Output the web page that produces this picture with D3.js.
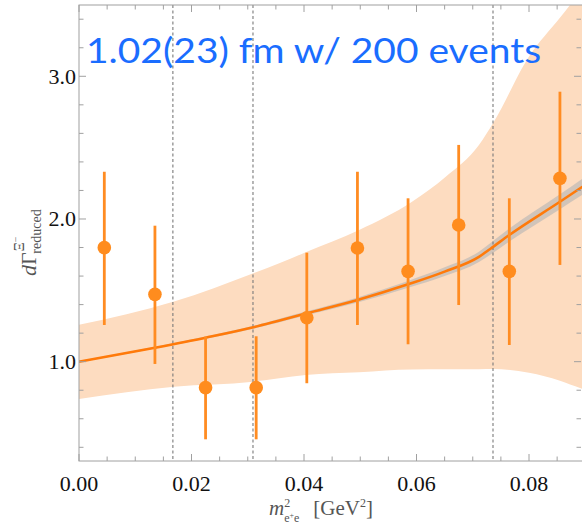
<!DOCTYPE html>
<html>
<head>
<meta charset="utf-8">
<script src="https://cdn.jsdelivr.net/npm/d3@7"></script>
<style>
  html, body { margin: 0; padding: 0; background: #fff; }
  svg { display: block; }
</style>
</head>
<body>
<svg id="chart" width="582" height="529"></svg>
<script>
// Binned data points (bin centres in GeV^2) with their error bars
const binX = [0.0045, 0.0135, 0.0225, 0.0315, 0.0405, 0.0495, 0.0585, 0.0675, 0.0765, 0.0855];
const binY = [1.799, 1.472, 0.818, 0.818, 1.308, 1.797, 1.633, 1.958, 1.633, 2.285];
const binHi = [2.331, 1.953, 1.175, 1.178, 1.764, 2.331, 2.145, 2.519, 2.145, 2.892];
const binLo = [1.257, 0.984, 0.456, 0.456, 0.849, 1.257, 1.122, 1.397, 1.117, 1.678];

// Fitted curve
const fitX = [0, 0.0135, 0.0225, 0.031, 0.0355, 0.0405, 0.0495, 0.0585, 0.065, 0.0711, 0.0731, 0.0765, 0.0855, 0.0895];
const fitY = [1.000, 1.098, 1.168, 1.241, 1.287, 1.339, 1.432, 1.542, 1.631, 1.735, 1.790, 1.888, 2.121, 2.226];
// Half-width of the narrow (grey) band around the fit
const fitErr = [0.004, 0.006, 0.008, 0.010, 0.012, 0.014, 0.018, 0.024, 0.030, 0.036, 0.040, 0.045, 0.052, 0.056];

// Wide (light orange) band edges
const bandUpX = [0, 0.0169, 0.031, 0.0356, 0.0498, 0.0592, 0.0652, 0.0711, 0.0736, 0.080, 0.0873, 0.0895];
const bandUpY = [1.258, 1.421, 1.620, 1.690, 1.923, 2.121, 2.296, 2.519, 2.671, 3.138, 3.50, 3.62];
const bandLoX = [0, 0.0169, 0.031, 0.0403, 0.0592, 0.0736, 0.080, 0.0855, 0.0895];
const bandLoY = [0.739, 0.825, 0.860, 0.907, 0.945, 0.948, 0.922, 0.866, 0.810];

// Vertical reference lines
const refLines = [0.01669, 0.03093, 0.0736];

// Tick labels
const xTicks = [0.00, 0.02, 0.04, 0.06, 0.08];
const yTicks = [1.0, 2.0, 3.0];

const titleText = "1.02(23) fm w/ 200 events";

const svg = d3.select("#chart");
const mLeft = 79, mRight = 581, mTop = 5, mBottom = 461;

const x = d3.scaleLinear().domain([0, (mRight - mLeft) / 5625]).range([mLeft, mRight]);
const y = d3.scaleLinear().domain([0.304, 3.4996]).range([mBottom, mTop]);

svg.append("defs").append("clipPath").attr("id", "plotClip")
  .append("rect").attr("x", mLeft).attr("y", mTop).attr("width", mRight - mLeft + 1).attr("height", mBottom - mTop);

const plot = svg.append("g").attr("clip-path", "url(#plotClip)");

// Interpolate band edges onto a common grid for the area
const interp = (xs, ys) => v => {
  for (let i = 0; i < xs.length - 1; i++) {
    if (v <= xs[i + 1]) {
      const t = (v - xs[i]) / (xs[i + 1] - xs[i]);
      return ys[i] + t * (ys[i + 1] - ys[i]);
    }
  }
  return ys[ys.length - 1];
};
const upF = interp(bandUpX, bandUpY), loF = interp(bandLoX, bandLoY);
const grid = Array.from(new Set([...bandUpX, ...bandLoX])).sort((a, b) => a - b);

plot.append("path")
  .datum(grid)
  .attr("fill", "#fddcc0")
  .attr("d", d3.area().curve(d3.curveMonotoneX)
    .x(d => x(d)).y0(d => y(loF(d))).y1(d => y(upF(d))));

// Grey band around the fit
const fitData = fitX.map((v, i) => ({ x: v, y: fitY[i], e: fitErr[i] }));
plot.append("path")
  .datum(fitData)
  .attr("fill", "#b4b4b4")
  .attr("fill-opacity", 0.6)
  .attr("d", d3.area().curve(d3.curveMonotoneX)
    .x(d => x(d.x)).y0(d => y(d.y - d.e)).y1(d => y(d.y + d.e)));

// Dashed vertical lines
plot.selectAll("line.ref").data(refLines).join("line")
  .attr("class", "ref")
  .attr("x1", d => x(d)).attr("x2", d => x(d))
  .attr("y1", mTop).attr("y2", mBottom)
  .attr("stroke", "#7a7a7a").attr("stroke-width", 1.1)
  .attr("stroke-dasharray", "3,2.5");

// Fit line
plot.append("path")
  .datum(fitData)
  .attr("fill", "none")
  .attr("stroke", "#ff7a0a")
  .attr("stroke-width", 2.6)
  .attr("d", d3.line().curve(d3.curveMonotoneX).x(d => x(d.x)).y(d => y(d.y)));

// Error bars and points
const pts = binX.map((v, i) => ({ x: v, y: binY[i], hi: binHi[i], lo: binLo[i] }));
plot.selectAll("line.err").data(pts).join("line")
  .attr("class", "err")
  .attr("x1", d => x(d.x)).attr("x2", d => x(d.x))
  .attr("y1", d => y(d.lo)).attr("y2", d => y(d.hi))
  .attr("stroke", "#ff8c22").attr("stroke-width", 2.8);
plot.selectAll("circle.pt").data(pts).join("circle")
  .attr("class", "pt")
  .attr("cx", d => x(d.x)).attr("cy", d => y(d.y))
  .attr("r", 6.8)
  .attr("fill", "#ff8c1e");

// Frame
const frameColor = "#a0a0a0";
svg.append("rect")
  .attr("x", mLeft).attr("y", mTop).attr("width", mRight - mLeft + 2).attr("height", mBottom - mTop)
  .attr("fill", "none").attr("stroke", frameColor).attr("stroke-width", 1);

// Ticks on all four sides, pointing inward
const xMinor = d3.range(0, 0.0895, 0.005);
const yMinor = d3.range(0.4, 3.5, 0.2);
const isMajorX = v => Math.abs(v / 0.02 - Math.round(v / 0.02)) < 1e-6;
const isMajorY = v => Math.abs(v - Math.round(v)) < 1e-6;
const tickG = svg.append("g").attr("stroke", frameColor).attr("stroke-width", 1);
xMinor.forEach(v => {
  const len = isMajorX(v) ? 7 : 4.5;
  tickG.append("line").attr("x1", x(v)).attr("x2", x(v)).attr("y1", mBottom).attr("y2", mBottom - len);
  tickG.append("line").attr("x1", x(v)).attr("x2", x(v)).attr("y1", mTop).attr("y2", mTop + len);
});
yMinor.forEach(v => {
  const len = isMajorY(v) ? 7 : 4.5;
  tickG.append("line").attr("y1", y(v)).attr("y2", y(v)).attr("x1", mLeft).attr("x2", mLeft + len);
  tickG.append("line").attr("y1", y(v)).attr("y2", y(v)).attr("x1", mRight).attr("x2", mRight - len);
});

// Tick labels
const serif = "'Liberation Serif', 'Times New Roman', serif";
svg.append("g").selectAll("text").data(xTicks).join("text")
  .attr("x", d => x(d)).attr("y", 491)
  .attr("text-anchor", "middle")
  .attr("font-family", serif).attr("font-size", 22).attr("fill", "#111")
  .text(d => d3.format(".2f")(d));
svg.append("g").selectAll("text").data(yTicks).join("text")
  .attr("x", 76).attr("y", d => y(d) + 7.5)
  .attr("text-anchor", "end")
  .attr("font-family", serif).attr("font-size", 22).attr("fill", "#111")
  .text(d => d3.format(".1f")(d));

// Axis titles
const xl = svg.append("text")
  .attr("x", 269).attr("y", 515)
  .attr("font-family", serif).attr("font-size", 21).attr("fill", "#555");
xl.append("tspan").attr("font-style", "italic").text("m");
xl.append("tspan").attr("font-size", 12).attr("dy", -8).text("2");
xl.append("tspan").attr("font-size", 12).attr("dx", -6).attr("dy", 15).text("e");
xl.append("tspan").attr("font-size", 8).attr("dy", -4).text("+");
xl.append("tspan").attr("font-size", 12).attr("dy", 4).text("e");
xl.append("tspan").attr("dx", 14).attr("dy", -7).text("[GeV");
xl.append("tspan").attr("font-size", 12).attr("dy", -8).text("2");
xl.append("tspan").attr("dy", 8).text("]");

const yl = svg.append("text")
  .attr("transform", "translate(36,276) rotate(-90)")
  .attr("font-family", serif).attr("font-size", 22).attr("fill", "#555");
yl.append("tspan").attr("font-style", "italic").text("d");
yl.append("tspan").text("Γ");
yl.append("tspan").attr("font-size", 14).attr("dy", -12).attr("dx", 1).text("Ξ");
yl.append("tspan").attr("font-size", 10).attr("dy", -5).text("−");
yl.append("tspan").attr("font-size", 14).attr("dx", -17).attr("dy", 22).text("reduced");

// Title annotation
svg.append("text")
  .attr("x", 86).attr("y", 63)
  .attr("font-family", "Lato, 'Open Sans', sans-serif")
  .attr("font-size", 35)
  .attr("textLength", 455).attr("lengthAdjust", "spacingAndGlyphs")
  .attr("fill", "#1a6dff")
  .text(titleText);
</script>
</body>
</html>
